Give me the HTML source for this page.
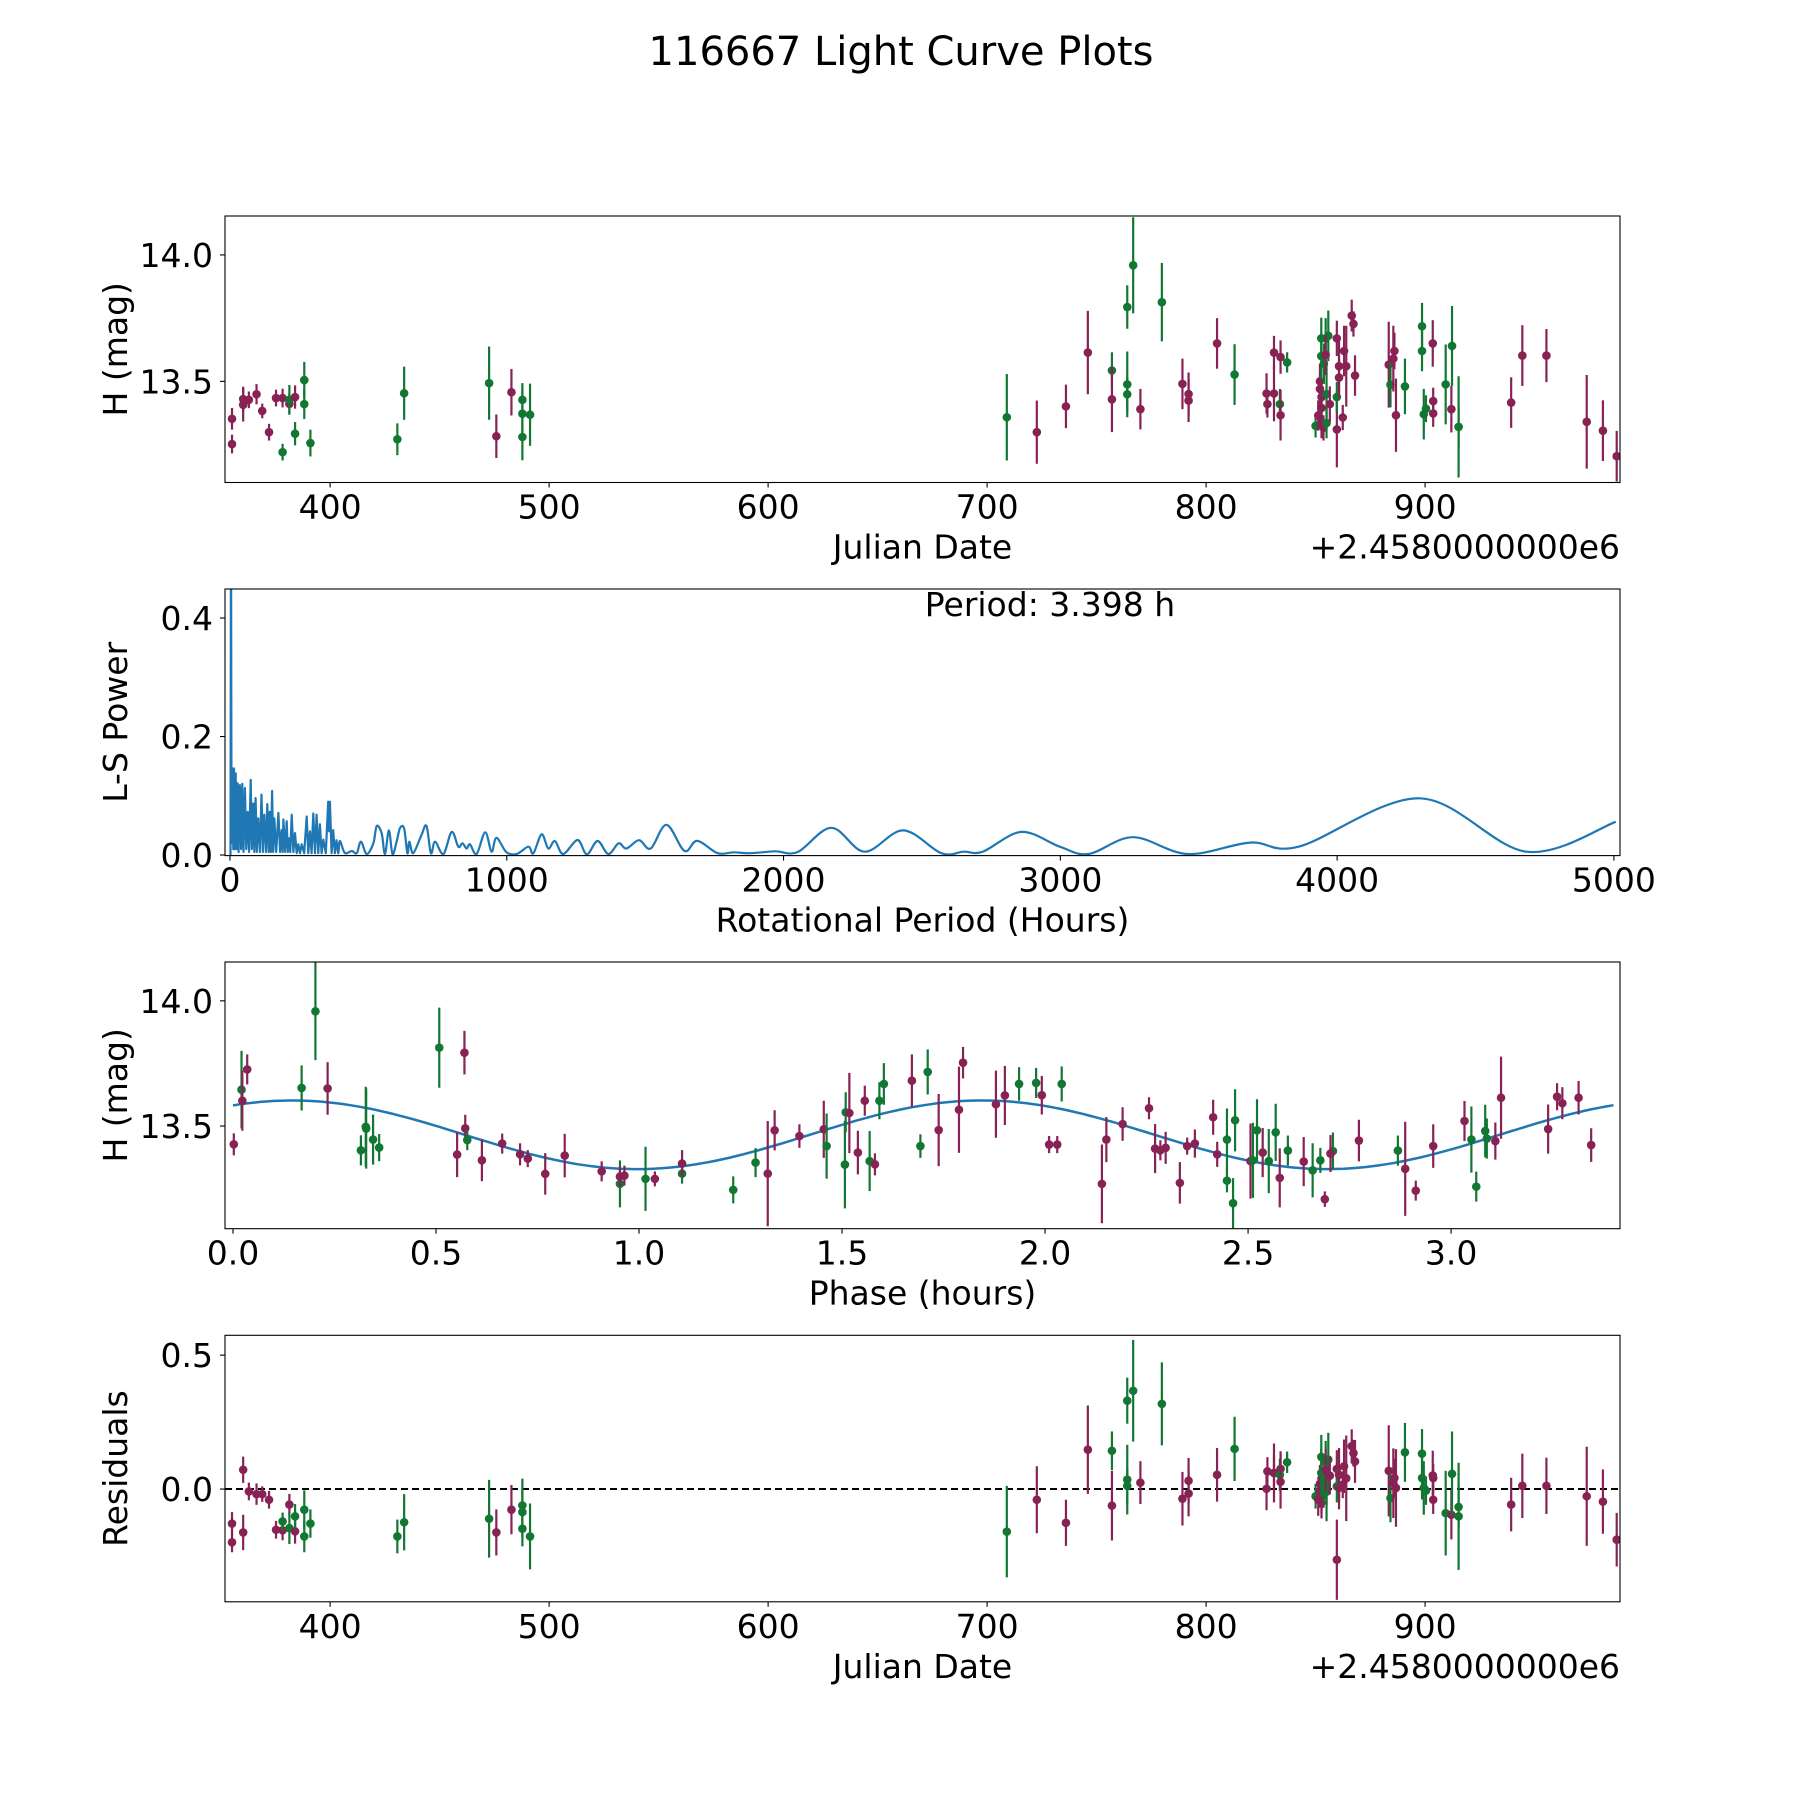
<!DOCTYPE html>
<html><head><meta charset="utf-8"><title>116667 Light Curve Plots</title>
<style>
html,body{margin:0;padding:0;background:#fff;}
svg{display:block;font-family:"DejaVu Sans","Liberation Sans",sans-serif;}
</style></head>
<body>
<svg id="fig" width="1800" height="1800" viewBox="0 0 1800 1800" xmlns="http://www.w3.org/2000/svg">
<rect width="1800" height="1800" fill="#fff"/>
<text x="901" y="65" font-size="40" text-anchor="middle">116667 Light Curve Plots</text>
<g id="root"></g>
</svg>
<script>
// ---- Panel 1 / 4 data: Julian date (offset 2458000), magnitude, error, filter band
const jdDates = [355.2,355.2,360.3,360.3,362.9,366.4,369,372.1,375.3,378.3,381.4,381.4,384,378.3,384,388.2,388.2,391,430.7,433.8,472.6,475.9,482.8,487.8,487.8,487.8,491.3,
709,722.7,736,746,757,757,764,764,764,766.7,770,779.8,789.2,792,792,805,813,827.6,828,831,831,834,833.7,834,837,
850,851.2,852,852,852.7,852.7,852.7,853.6,852.6,852.6,853.8,855,855,855.8,854.6,854.6,856.5,859.7,859.7,859.7,860.7,860.7,862.4,863,864,866.5,867.3,868,
883.4,884.2,885.5,886,886.7,890.8,898.6,898.6,899.4,900.4,903.7,903.7,903.5,909.4,912,912.3,915.3,915.3,939.3,944.4,955.4,973.8,981.2,987.5];
const jdMags = [13.352,13.252,13.43,13.407,13.427,13.449,13.383,13.299,13.434,13.434,13.411,13.427,13.438,13.22,13.293,13.505,13.41,13.256,13.271,13.453,13.493,13.283,13.457,13.427,13.372,13.28,13.368,
13.358,13.299,13.401,13.614,13.543,13.429,13.794,13.488,13.449,13.959,13.39,13.813,13.49,13.45,13.424,13.65,13.527,13.452,13.41,13.452,13.614,13.596,13.41,13.366,13.575,
13.324,13.365,13.5,13.47,13.438,13.395,13.335,13.316,13.67,13.6,13.57,13.45,13.335,13.68,13.67,13.605,13.41,13.31,13.67,13.438,13.56,13.515,13.357,13.62,13.56,13.76,13.727,13.523,
13.566,13.487,13.59,13.62,13.366,13.48,13.718,13.62,13.37,13.392,13.422,13.373,13.65,13.488,13.39,13.64,13.32,13.32,13.416,13.602,13.602,13.34,13.305,13.204];
const jdErrs = [.043,.037,.049,.066,.033,.04,.029,.033,.033,.037,.04,.059,.046,.033,.046,.072,.059,.053,.063,.105,.145,.086,.092,.066,.1,.092,.123,
.171,.125,.086,.165,.072,.13,.086,.13,.066,.19,.08,.155,.1,.085,.085,.1,.12,.08,.053,.11,.066,.066,.06,.1,.04,
.046,.06,.07,.06,.07,.06,.06,.05,.082,.09,.08,.11,.06,.1,.08,.08,.07,.15,.07,.06,.1,.08,.05,.1,.16,.063,.05,.08,
.17,.09,.13,.072,.145,.11,.092,.08,.1,.053,.053,.053,.092,.158,.092,.158,.2,.08,.1,.12,.105,.185,.12,.1];
const jdBands = "pppppppppppgpggggggggppgggggpppgpggggpgppppgpppppgpg"+"gppppppp"+"gggggggppppgpppppppppg"+"pppgggggpppgpgggppppppp";
// residuals (mag minus model) per observation, same order as jdDates
const residuals = [-.129,-.199,.072,-.162,-.009,-.019,-.019,-.04,-.152,-.154,-.058,-.146,-.158,-.121,-.102,-.077,-.177,-.129,-.177,-.124,-.111,-.162,-.077,-.148,-.061,-.086,-.177,
-.159,-.04,-.126,.147,.143,-.062,.33,.035,.012,.367,.024,.318,-.036,.031,-.017,.053,.15,.001,.066,.06,.06,.075,.053,.027,.1,
-.027,-.04,.02,-.01,.04,-.03,-.05,-.02,.12,.06,.03,-.01,0,.11,.1,.07,.05,-.264,.075,.01,.053,.004,.016,.085,.04,.16,.134,.103,
.068,-.034,.022,.041,.004,.137,.132,.041,.004,-.006,.041,-.04,.051,-.09,-.096,.057,-.102,-.067,-.058,.012,.012,-.027,-.047,-.189];

// ---- Panel 2: Lomb-Scargle periodogram
const lsPeriods = [2,3.5,5,7,9.5,12,14.5,17,20.5,24,
27.7,31,36,40,44.4,49,54,59,64,69,
74.7,79,84.3,88,92.7,97,102,108,114,119,
124,130,135,140,144,148,152,156,160,167,
175,181,186.7,190,193,199,205,209,213,218,
223,229,235,241,247,253,259,268,277,283,
289,295,301,307,313,319,325,331,337,346,
355,358,361,367,373,379,385,391,
397,415,440,458,473,494,518,530,548,560,
574,587,602,614,629,641,648,662,692,710,
726,741,771,801,825,840,855,867,891,922,
945,963,999,1036,1078,1096,1126,1150,1174,1204,
1256,1289,1328,1367,1404,1432,1478,1520,1577,1642,
1688,1762,1820,1878,1970,2051,2173,2293,2432,2570,
2651,2720,2859,2998,3102,3263,3460,3686,3864,4298,
4684,5007];
const lsPowers = [0,0.6,0.15,0.02,0.146,0.01,0.146,0.01,0.138,0.01,
0.121,0.005,0.118,0.01,0.12,0.005,0.113,0.01,0.073,0.005,
0.127,0.01,0.087,0.005,0.096,0.005,0.062,0.005,0.102,0.005,
0.068,0.005,0.086,0.005,0.073,0.005,0.108,0.005,0.062,0.005,
0.071,0.005,0.042,0.005,0.06,0.005,0.057,0.005,0.028,0.005,
0.068,0.005,0.037,0.003,0.018,0.003,0.018,0.003,0.065,0.003,
0.04,0.003,0.07,0.003,0.068,0.003,0.052,0.003,0.026,0.003,
0.09,0.04,0.09,0.003,0.042,0.003,0.025,0.003,
0.0236,0.0034,0.0068,0.003,0.0225,0.0017,0.0197,0.049,0.0366,0.0017,
0.0416,0.0017,0.0225,0.045,0.045,0.003,0.0225,0.003,0.0338,0.049,
0.003,0.0225,0.0017,0.039,0.0141,0.0197,0.011,0.018,0.0017,0.0383,
0.0056,0.029,0.0045,0.0017,0.0141,0.0028,0.035,0.011,0.0236,0.0017,
0.0253,0.0012,0.0236,0.0017,0.0197,0.011,0.025,0.011,0.051,0.007,
0.024,0.003,0.0045,0.003,0.0063,0.005,0.046,0.0056,0.0416,0.003,
0.0056,0.0056,0.039,0.014,0.0017,0.03,0.0017,0.021,0.0146,0.0957,
0.0056,0.056];
const periodLabel = ["Period: 3.398 h"];

// ---- Panel 3: phase-folded data
const phases = [0.002,0.021,0.023,0.035,0.169,0.203,0.233,0.315,0.327,0.328,0.345,0.36,0.508,0.57,0.552,0.572,0.577,0.613,0.663,0.707,0.726,0.769,0.817,0.908,0.953,0.953,0.964,1.016,1.039,1.106,1.106,1.232,1.287,1.317,1.334,1.395,1.455,1.462,1.507,1.509,1.518,1.539,1.556,1.568,1.581,1.592,1.603,1.672,1.693,
1.711,1.738,1.788,1.798,1.879,1.901,1.936,1.978,1.992,2.01,2.03,2.041,2.14,2.151,2.191,2.256,2.271,2.284,2.297,2.332,2.35,2.369,2.414,2.424,2.448,2.448,2.468,2.463,2.506,2.512,2.522,2.536,2.551,2.568,2.578,2.598,2.637,2.659,2.678,2.709,2.703,2.689,2.773,2.869,2.887,2.913,2.956,3.033,3.05,3.062,3.084,3.088,3.109,3.123,3.239,3.261,3.274,3.314,3.345];
const phaseMags = [13.427,13.645,13.601,13.726,13.652,13.958,13.65,13.403,13.497,13.49,13.446,13.414,13.813,13.793,13.386,13.491,13.444,13.363,13.43,13.387,13.37,13.309,13.382,13.319,13.269,13.298,13.302,13.289,13.289,13.31,13.35,13.245,13.354,13.31,13.483,13.46,13.487,13.42,13.346,13.555,13.552,13.394,13.601,13.36,13.347,13.601,13.668,13.681,13.42,
13.716,13.484,13.565,13.753,13.587,13.622,13.668,13.672,13.623,13.426,13.426,13.668,13.269,13.446,13.508,13.571,13.41,13.403,13.413,13.273,13.42,13.43,13.535,13.387,13.446,13.282,13.523,13.192,13.36,13.363,13.483,13.394,13.36,13.475,13.293,13.402,13.358,13.323,13.363,13.4,13.39,13.208,13.442,13.402,13.329,13.242,13.42,13.52,13.446,13.258,13.48,13.45,13.44,13.613,13.488,13.617,13.591,13.613,13.424];
const phaseErrs = [.044,.155,.12,.06,.09,.195,.105,.06,.16,.16,.1,.054,.16,.087,.09,.054,.04,.083,.04,.044,.034,.083,.087,.04,.094,.04,.04,.128,.03,.04,.054,.054,.058,.21,.08,.047,.114,.13,.175,.08,.16,.087,.06,.12,.044,.074,.083,.105,.047,
.09,.144,.172,.063,.134,.118,.067,.06,.077,.034,.034,.07,.157,.09,.067,.044,.098,.04,.064,.083,.034,.056,.07,.05,.124,.047,.124,.1,.15,.15,.124,.098,.128,.114,.118,.06,.098,.108,.05,.074,.074,.031,.083,.06,.188,.04,.087,.08,.132,.06,.105,.08,.074,.164,.098,.054,.064,.067,.067];
const phaseBands = "pgppggpggggggpppgpppppppgppgpgpggppppgggpppgpggp"+"ggpppppggpppgppppppppppppggggpggpggpgpgggpppgppppggggpppppppp";
// sinusoid model parameters: mean, amplitude, phase of max, model period (h)
const modelMean = [13.465];
const modelAmp = [0.137];
const modelPeak = [0.146];
const modelPeriod = [1.699];

// ---- tick labels
const jdTicks = [400,500,600,700,800,900];
const magTicks = [13.5,14.0];
const lsXTicks = [0,1000,2000,3000,4000,5000];
const lsYTicks = [0.0,0.2,0.4];
const phaseTicks = [0.0,0.5,1.0,1.5,2.0,2.5,3.0];
const residTicks = [0.0,0.5];

const NS = "http://www.w3.org/2000/svg";
const root = document.getElementById('root');
const PURPLE = "#882255", GREEN = "#117733", BLUE = "#1f77b4";
const FS = 33;
function mk(tag, attrs, parent){
  const e = document.createElementNS(NS, tag);
  for (const k in attrs) e.setAttribute(k, attrs[k]);
  (parent||root).appendChild(e);
  return e;
}
const L = 225, R = 1620;
function makeAxes(id, top, bottom, xmin, xmax, ymin, ymax){
  const ax = {top, bottom, xs: v => L + (v - xmin) / (xmax - xmin) * (R - L), ys: v => bottom - (v - ymin) / (ymax - ymin) * (bottom - top)};
  const g = mk('g', {});
  
  
  const cp = mk('clipPath', {id: id + '-clip'}, g);
  mk('rect', {x: L, y: top, width: R - L, height: bottom - top}, cp);
  ax.g = g;
  ax.plot = mk('g', {'clip-path': 'url(#' + id + '-clip)'}, g);
  
  
  return ax;
}
function frame(ax, id){
  const f = mk('rect', {x: L, y: ax.top, width: R - L, height: ax.bottom - ax.top, fill: 'none', stroke: '#000', 'stroke-width': 1.1}, ax.g);
  
  
}
function xTicks(ax, id, ticks, fmt){
  ticks.forEach(t => {
    const x = ax.xs(t);
    mk('line', {x1: x, x2: x, y1: ax.bottom, y2: ax.bottom + 5, stroke: '#000', 'stroke-width': 1.1}, ax.g);
    const tx = mk('text', {x: x, y: ax.bottom + 36, 'font-size': FS, 'text-anchor': 'middle'}, ax.g);
    
    
    tx.textContent = fmt(t);
  });
}
function yTicks(ax, id, ticks, fmt){
  ticks.forEach(t => {
    const y = ax.ys(t);
    mk('line', {x1: L - 5, x2: L, y1: y, y2: y, stroke: '#000', 'stroke-width': 1.1}, ax.g);
    const tx = mk('text', {x: L - 12, y: y + 12, 'font-size': FS, 'text-anchor': 'end'}, ax.g);
    
    
    tx.textContent = fmt(t);
  });
}
function xLabel(ax, id, s){
  const t = mk('text', {x: (L + R) / 2, y: ax.bottom + 76, 'font-size': FS, 'text-anchor': 'middle'}, ax.g);
  
  
  t.textContent = s;
}
function yLabel(ax, id, s){
  const cy = (ax.top + ax.bottom) / 2;
  const t = mk('text', {x: 127, y: cy, 'font-size': FS, 'text-anchor': 'middle', transform: 'rotate(-90 127 ' + cy + ')'}, ax.g);
  
  
  t.textContent = s;
}
function offsetText(ax, id){
  const t = mk('text', {x: R, y: ax.bottom + 76, 'font-size': FS, 'text-anchor': 'end'}, ax.g);
  
  
  t.textContent = '+2.4580000000e6';
}
function errPoint(ax, x, y, e, band, name){
  const col = band === 'g' ? GREEN : PURPLE;
  const px = ax.xs(x);
  const ln = mk('line', {x1: px, x2: px, y1: ax.ys(y - e), y2: ax.ys(y + e), stroke: col, 'stroke-width': 2.2}, ax.plot);
  
  
  const c = mk('circle', {cx: px, cy: ax.ys(y), r: 4.3, fill: col}, ax.plot);
  
  
}
const fmt1 = t => t.toFixed(1);
const fmt0 = t => String(t);

// Panel 1
const a1 = makeAxes('light-curve', 216, 482.5, 352, 989, 13.10, 14.154);
jdDates.forEach((d, i) => errPoint(a1, d, jdMags[i], jdErrs[i], jdBands[i], 'light-curve'));
frame(a1, 'light-curve'); xTicks(a1, 'light-curve', jdTicks, fmt0); yTicks(a1, 'light-curve', magTicks, fmt1);
xLabel(a1, 'light-curve', 'Julian Date'); yLabel(a1, 'light-curve', 'H (mag)'); offsetText(a1, 'light-curve');

// Panel 2
const a2 = makeAxes('periodogram', 589, 855.6, -18, 5022, -0.001, 0.449);
(function(){
  const pts = lsPeriods.map((p, i) => [a2.xs(p), a2.ys(lsPowers[i])]);
  let d = 'M' + pts[0][0].toFixed(1) + ' ' + pts[0][1].toFixed(1);
  for (let i = 1; i < pts.length; i++){
    if (lsPeriods[i] <= 395){ d += ' L' + pts[i][0].toFixed(1) + ' ' + pts[i][1].toFixed(1); continue; }
    const p0 = pts[Math.max(0, i - 2)], p1 = pts[i - 1], p2 = pts[i], p3 = pts[Math.min(pts.length - 1, i + 1)];
    const c1x = p1[0] + (p2[0] - p0[0]) / 6, c1y = p1[1] + (p2[1] - p0[1]) / 6;
    const c2x = p2[0] - (p3[0] - p1[0]) / 6, c2y = p2[1] - (p3[1] - p1[1]) / 6;
    d += ' C' + c1x.toFixed(1) + ' ' + c1y.toFixed(1) + ' ' + c2x.toFixed(1) + ' ' + c2y.toFixed(1) + ' ' + p2[0].toFixed(1) + ' ' + p2[1].toFixed(1);
  }
  const path = mk('path', {d: d, fill: 'none', stroke: BLUE, 'stroke-width': 2.2, 'stroke-linejoin': 'round'}, a2.plot);
  
  
})();
frame(a2, 'periodogram'); xTicks(a2, 'periodogram', lsXTicks, fmt0); yTicks(a2, 'periodogram', lsYTicks, fmt1);
xLabel(a2, 'periodogram', 'Rotational Period (Hours)'); yLabel(a2, 'periodogram', 'L-S Power');
(function(){
  const t = mk('text', {x: 1050, y: 616, 'font-size': FS, 'text-anchor': 'middle'}, a2.g);
  
  
  t.textContent = periodLabel[0];
})();

// Panel 3
const a3 = makeAxes('phase-fold', 962, 1228.7, -0.0197, 3.416, 13.09, 14.155);
(function(){
  let d = '';
  for (let k = 0; k <= 200; k++){
    const ph = 0 + 3.4 * k / 200;
    const m = modelMean[0] + modelAmp[0] * Math.cos(2 * Math.PI * (ph - modelPeak[0]) / modelPeriod[0]);
    d += (k ? ' L' : 'M') + a3.xs(ph).toFixed(1) + ' ' + a3.ys(m).toFixed(1);
  }
  const path = mk('path', {d: d, fill: 'none', stroke: BLUE, 'stroke-width': 2.5}, a3.plot);
  
  
})();
phases.forEach((p, i) => errPoint(a3, p, phaseMags[i], phaseErrs[i], phaseBands[i], 'phase-fold'));
frame(a3, 'phase-fold'); xTicks(a3, 'phase-fold', phaseTicks, fmt1); yTicks(a3, 'phase-fold', magTicks, fmt1);
xLabel(a3, 'phase-fold', 'Phase (hours)'); yLabel(a3, 'phase-fold', 'H (mag)');

// Panel 4
const a4 = makeAxes('residuals', 1335.3, 1601.8, 352, 989, -0.421, 0.574);
(function(){
  const ln = mk('line', {x1: L, x2: R, y1: a4.ys(0), y2: a4.ys(0), stroke: '#000', 'stroke-width': 2, 'stroke-dasharray': '7,4'}, a4.plot);
  
  
})();
jdDates.forEach((d, i) => errPoint(a4, d, residuals[i], jdErrs[i], jdBands[i], 'residual'));
frame(a4, 'residuals'); xTicks(a4, 'residuals', jdTicks, fmt0); yTicks(a4, 'residuals', residTicks, fmt1);
xLabel(a4, 'residuals', 'Julian Date'); yLabel(a4, 'residuals', 'Residuals'); offsetText(a4, 'residuals');
</script>
</body></html>
